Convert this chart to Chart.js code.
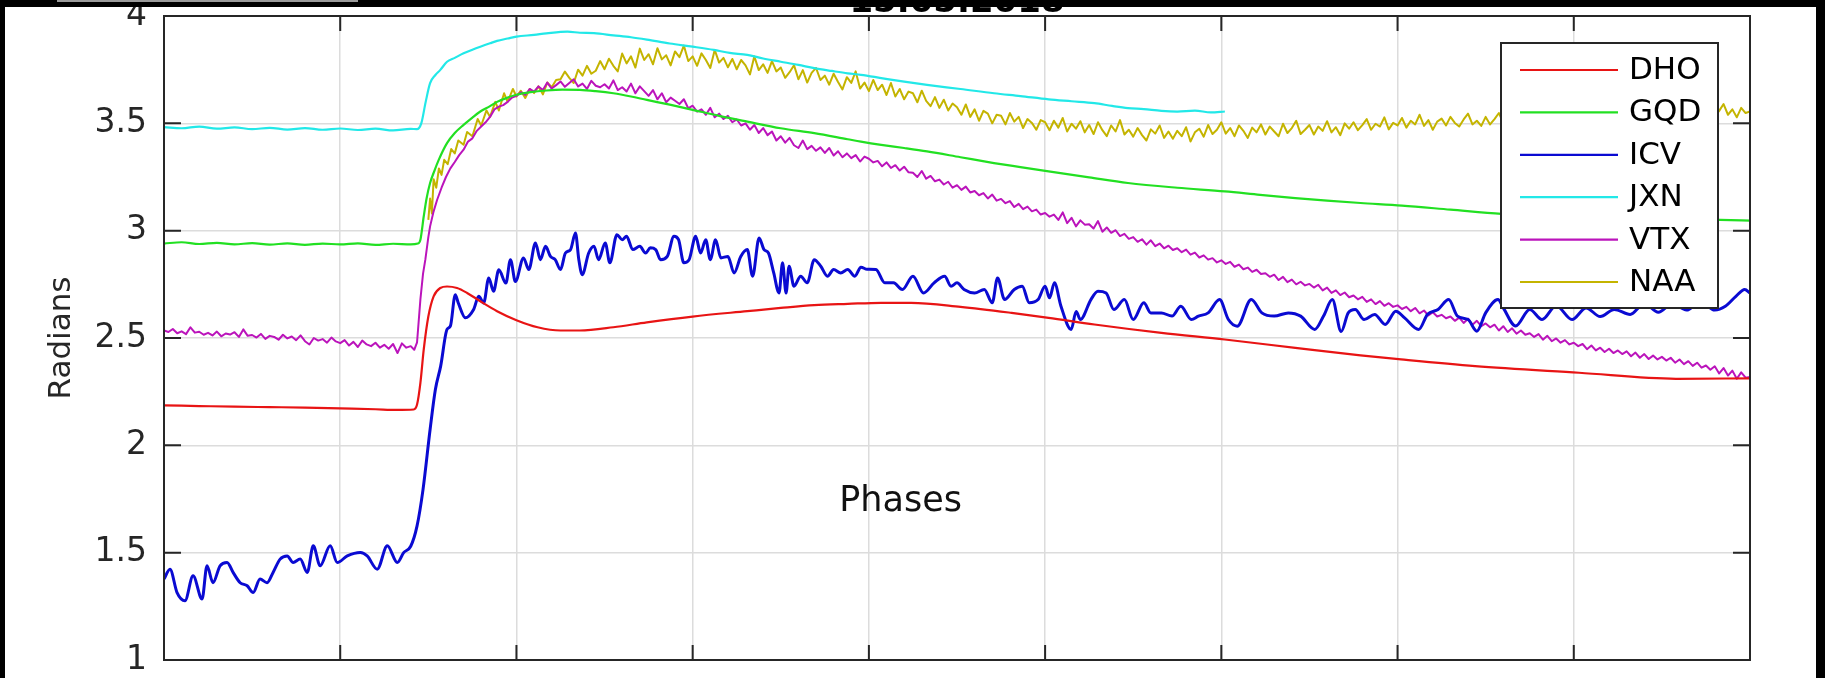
<!DOCTYPE html>
<html><head><meta charset="utf-8">
<script src="https://cdn.jsdelivr.net/npm/chart.js@4.4.1/dist/chart.umd.min.js"></script>
<style>
html,body{margin:0;padding:0;background:#000;width:1825px;height:678px;overflow:hidden}
#panel{position:absolute;left:5px;top:7px;width:1811px;height:671px;background:#fff}
#bar{position:absolute;left:57px;top:0;width:301px;height:2px;background:#9a9a9a}
canvas{display:block}
</style></head><body>
<div id="bar"></div>
<div id="panel"><canvas id="c" width="1811" height="671"></canvas></div>
<script>
const titleText = '15.05.2018';
const xAxisLabel = 'Phases';
const yAxisLabel = 'Radians';
const seriesNames = ['DHO','GQD','ICV','JXN','VTX','NAA'];
const seriesColors = ['#e81414','#22e022','#0a0ad2','#22e8e8','#bb14bb','#c4b400'];
const seriesWidths = [2.2,2.2,3,2.2,2,2];
const yTicks = [1,1.5,2,2.5,3,3.5,4];
const xTicks = [0,1,2,3,4,5,6,7,8,9];

const dhoX = [0,0.2,0.4,0.6,0.8,1.0,1.2,1.32,1.417,1.436,1.455,1.474,1.50,1.53,1.568,1.606,1.663,1.72,1.795,1.89,2.0,2.12,2.25,2.36,2.55,2.74,3.0,3.31,3.5,3.69,3.88,4.07,4.24,4.52,4.81,5.02,5.28,5.66,6.02,6.42,6.79,7.02,7.44,8.03,8.58,9.0];
const dhoY = [2.186,2.183,2.180,2.178,2.176,2.172,2.168,2.165,2.167,2.19,2.291,2.447,2.60,2.694,2.733,2.74,2.733,2.71,2.671,2.625,2.583,2.55,2.535,2.535,2.55,2.573,2.60,2.625,2.64,2.653,2.659,2.664,2.664,2.645,2.617,2.594,2.563,2.524,2.493,2.454,2.419,2.40,2.369,2.338,2.31,2.312];

const gqdX = [0,0.1,0.2,0.3,0.4,0.5,0.6,0.7,0.8,0.9,1.0,1.1,1.2,1.3,1.4,1.44,1.455,1.474,1.49,1.51,1.535,1.559,1.606,1.65,1.70,1.75,1.795,1.85,1.89,1.95,2.0,2.08,2.17,2.26,2.36,2.45,2.55,2.65,2.74,2.87,3.0,3.15,3.31,3.5,3.69,3.88,3.955,4.07,4.2,4.33,4.52,4.71,4.86,5.02,5.25,5.47,5.75,6.02,6.22,6.42,6.6,6.79,7.025,7.3,7.59,7.9,8.2,8.5,8.83,9.0];
const gqdY = [2.940,2.946,2.938,2.943,2.936,2.942,2.935,2.941,2.934,2.940,2.936,2.941,2.934,2.939,2.936,2.94,2.958,3.067,3.15,3.222,3.28,3.33,3.408,3.455,3.493,3.527,3.555,3.58,3.60,3.62,3.633,3.645,3.653,3.657,3.656,3.65,3.64,3.625,3.609,3.587,3.563,3.535,3.508,3.477,3.454,3.426,3.415,3.40,3.385,3.369,3.342,3.315,3.296,3.276,3.248,3.222,3.20,3.183,3.167,3.152,3.14,3.129,3.117,3.098,3.078,3.068,3.06,3.055,3.05,3.047];

const icvX = [0,0.034,0.074,0.119,0.165,0.216,0.244,0.278,0.318,0.358,0.392,0.432,0.472,0.506,0.545,0.585,0.619,0.659,0.699,0.733,0.773,0.813,0.847,0.886,0.943,0.983,1.04,1.114,1.153,1.21,1.267,1.324,1.36,1.40,1.436,1.47,1.51,1.54,1.57,1.606,1.625,1.653,1.67,1.71,1.757,1.786,1.814,1.843,1.87,1.9,1.94,1.966,1.994,2.04,2.07,2.108,2.136,2.165,2.193,2.22,2.25,2.278,2.307,2.335,2.354,2.373,2.41,2.44,2.466,2.504,2.53,2.57,2.6,2.625,2.66,2.7,2.733,2.76,2.79,2.818,2.856,2.894,2.92,2.95,2.98,3.017,3.045,3.074,3.1,3.13,3.16,3.2,3.235,3.273,3.31,3.34,3.377,3.405,3.43,3.46,3.49,3.51,3.53,3.547,3.575,3.613,3.65,3.69,3.727,3.765,3.8,3.84,3.88,3.92,3.955,3.99,4.04,4.09,4.14,4.19,4.25,4.31,4.37,4.43,4.466,4.5,4.54,4.6,4.655,4.7,4.73,4.77,4.825,4.87,4.91,4.96,5.0,5.025,5.053,5.09,5.148,5.176,5.2,5.26,5.3,5.346,5.39,5.45,5.5,5.56,5.6,5.66,5.72,5.77,5.83,5.87,5.925,5.99,6.04,6.09,6.17,6.23,6.3,6.38,6.45,6.53,6.58,6.63,6.68,6.72,6.76,6.81,6.87,6.93,6.99,7.04,7.12,7.17,7.23,7.29,7.34,7.4,7.45,7.5,7.57,7.6,7.67,7.75,7.82,7.9,7.99,8.07,8.15,8.23,8.32,8.4,8.48,8.56,8.64,8.72,8.8,8.86,8.92,8.97,9.0];
const icvY = [1.377,1.423,1.314,1.276,1.392,1.284,1.439,1.36,1.439,1.454,1.408,1.36,1.346,1.314,1.377,1.36,1.408,1.47,1.485,1.454,1.47,1.408,1.532,1.439,1.532,1.454,1.485,1.501,1.485,1.423,1.532,1.454,1.50,1.53,1.625,1.795,2.074,2.26,2.369,2.54,2.555,2.702,2.663,2.594,2.633,2.694,2.663,2.78,2.718,2.818,2.756,2.865,2.763,2.873,2.819,2.943,2.865,2.927,2.88,2.865,2.819,2.896,2.912,2.989,2.865,2.795,2.896,2.927,2.865,2.943,2.85,2.981,2.958,2.974,2.912,2.927,2.896,2.92,2.912,2.865,2.88,2.974,2.958,2.85,2.865,2.974,2.896,2.958,2.865,2.958,2.873,2.88,2.803,2.88,2.912,2.788,2.966,2.912,2.896,2.803,2.71,2.85,2.71,2.834,2.741,2.788,2.757,2.865,2.834,2.788,2.819,2.803,2.819,2.788,2.83,2.82,2.819,2.757,2.757,2.726,2.788,2.71,2.757,2.788,2.741,2.757,2.726,2.71,2.726,2.664,2.78,2.679,2.726,2.741,2.664,2.679,2.741,2.687,2.757,2.648,2.54,2.624,2.586,2.679,2.718,2.71,2.633,2.679,2.586,2.664,2.617,2.617,2.602,2.648,2.586,2.602,2.617,2.679,2.586,2.555,2.679,2.617,2.602,2.617,2.602,2.54,2.602,2.679,2.53,2.617,2.633,2.586,2.61,2.563,2.625,2.594,2.54,2.61,2.633,2.679,2.602,2.586,2.532,2.617,2.679,2.64,2.556,2.633,2.586,2.65,2.586,2.64,2.60,2.633,2.61,2.66,2.62,2.66,2.63,2.67,2.63,2.648,2.694,2.726,2.71];

const jxnX = [0,0.1,0.2,0.3,0.4,0.5,0.6,0.7,0.8,0.9,1.0,1.1,1.2,1.3,1.4,1.435,1.46,1.485,1.51,1.54,1.568,1.606,1.65,1.70,1.75,1.795,1.85,1.89,1.95,2.0,2.1,2.17,2.29,2.36,2.44,2.55,2.65,2.74,2.87,3.0,3.12,3.21,3.31,3.4,3.5,3.6,3.69,3.79,3.88,3.955,4.07,4.2,4.33,4.52,4.71,4.86,5.02,5.15,5.28,5.38,5.47,5.56,5.66,5.75,5.85,5.94,6.02];
const jxnY = [3.482,3.477,3.485,3.475,3.481,3.473,3.479,3.471,3.478,3.470,3.476,3.469,3.475,3.467,3.474,3.473,3.50,3.60,3.687,3.725,3.749,3.787,3.805,3.826,3.843,3.857,3.873,3.884,3.895,3.904,3.912,3.919,3.927,3.922,3.920,3.910,3.901,3.890,3.872,3.857,3.842,3.828,3.819,3.802,3.787,3.772,3.757,3.744,3.733,3.726,3.711,3.694,3.679,3.660,3.640,3.627,3.612,3.603,3.594,3.581,3.571,3.566,3.558,3.555,3.559,3.551,3.555];

// VTX: sampled every 0.025 from 0 to 1.4, irregular rise, then every 0.025 from 2.0 to 9.0
const sampleStep = 0.025;
const vtxStartA = 0;
const vtxYA = [2.535,2.528,2.542,2.522,2.531,2.518,2.550,2.525,2.529,2.515,
2.524,2.512,2.530,2.508,2.521,2.516,2.527,2.505,2.540,2.510,
2.514,2.502,2.519,2.496,2.510,2.505,2.492,2.515,2.498,2.507,
2.490,2.512,2.485,2.470,2.500,2.488,2.495,2.478,2.502,2.484,
2.476,2.490,2.465,2.482,2.458,2.488,2.470,2.462,2.478,2.455,
2.468,2.450,2.472,2.430,2.475,2.455,2.462];
const vtxRiseX = [1.42,1.436,1.455,1.47,1.483,1.5,1.51,1.53,1.55,1.575,1.6,1.625,1.65,1.675,1.7,1.725,1.75,1.775,1.8,1.825,1.85,1.875,1.9,1.925,1.95,1.975];
const vtxRiseY = [2.445,2.48,2.68,2.80,2.865,2.97,3.02,3.09,3.144,3.20,3.25,3.29,3.32,3.352,3.377,3.415,3.43,3.465,3.485,3.505,3.53,3.565,3.578,3.585,3.60,3.62];
const vtxStartB = 2.0;
const vtxYB = [3.628,3.645,3.632,3.660,3.648,3.672,3.655,3.690,3.662,3.678,
3.695,3.670,3.688,3.705,3.672,3.685,3.660,3.698,3.675,3.668,
3.682,3.662,3.700,3.655,3.668,3.648,3.685,3.640,3.672,3.650,
3.628,3.655,3.612,3.640,3.598,3.620,3.605,3.590,3.612,3.570,
3.582,3.555,3.565,3.540,3.572,3.528,3.545,3.520,3.535,3.505,
3.518,3.490,3.500,3.470,3.492,3.455,3.478,3.445,3.462,3.420,
3.440,3.410,3.432,3.398,3.385,3.420,3.380,3.395,3.372,3.388,
3.362,3.385,3.350,3.370,3.342,3.360,3.338,3.352,3.322,3.345,
3.335,3.318,3.325,3.300,3.318,3.292,3.305,3.280,3.298,3.272,
3.270,3.250,3.278,3.242,3.255,3.230,3.238,3.215,3.228,3.200,
3.212,3.190,3.205,3.178,3.185,3.165,3.175,3.150,3.168,3.140,
3.148,3.128,3.138,3.110,3.125,3.100,3.112,3.090,3.098,3.075,
3.082,3.065,3.075,3.050,3.085,3.035,3.060,3.020,3.048,3.028,
3.030,3.010,3.045,2.995,3.015,2.990,3.002,2.975,2.985,2.962,
2.970,2.948,2.960,2.935,2.955,2.928,2.940,2.918,2.930,2.910,
2.918,2.900,2.912,2.888,2.898,2.875,2.885,2.865,2.872,2.852,
2.862,2.845,2.855,2.832,2.842,2.820,2.828,2.808,2.818,2.798,
2.802,2.785,2.795,2.770,2.785,2.760,2.772,2.750,2.762,2.745,
2.752,2.735,2.748,2.722,2.735,2.710,2.722,2.700,2.712,2.690,
2.698,2.680,2.692,2.668,2.680,2.658,2.672,2.650,2.662,2.645,
2.652,2.635,2.645,2.625,2.640,2.615,2.628,2.605,2.620,2.600,
2.608,2.592,2.600,2.580,2.595,2.570,2.590,2.562,2.580,2.555,
2.568,2.550,2.562,2.535,2.555,2.528,2.545,2.520,2.535,2.515,
2.522,2.505,2.518,2.492,2.510,2.485,2.498,2.478,2.490,2.470,
2.478,2.462,2.472,2.448,2.465,2.442,2.455,2.435,2.450,2.430,
2.442,2.425,2.438,2.415,2.432,2.408,2.425,2.402,2.418,2.400,
2.412,2.395,2.408,2.385,2.400,2.378,2.392,2.370,2.385,2.362,
2.372,2.352,2.368,2.335,2.360,2.325,2.348,2.310,2.340,2.315,
2.318];

// NAA: irregular start, then every 0.025 from 2.0 to 9.0
const naaRiseX = [1.5,1.51,1.52,1.53,1.545,1.56,1.575,1.59,1.61,1.63,1.65,1.67,1.7,1.72,1.75,1.78,1.8,1.83,1.85,1.88,1.9,1.93,1.95,1.98];
const naaRiseY = [3.05,3.15,3.08,3.24,3.20,3.29,3.26,3.33,3.31,3.38,3.36,3.42,3.40,3.46,3.44,3.52,3.49,3.56,3.53,3.60,3.56,3.64,3.60,3.66];
const naaStart = 2.0;
const naaYB = [3.625,3.652,3.618,3.660,3.641,3.672,3.635,3.690,3.668,3.702,
3.705,3.741,3.712,3.688,3.750,3.722,3.768,3.731,3.745,3.790,
3.752,3.801,3.768,3.742,3.825,3.779,3.812,3.760,3.848,3.795,
3.822,3.775,3.850,3.798,3.817,3.770,3.835,3.808,3.862,3.790,
3.812,3.768,3.826,3.795,3.758,3.842,3.783,3.805,3.761,3.800,
3.752,3.795,3.770,3.728,3.812,3.748,3.775,3.735,3.790,3.742,
3.760,3.712,3.738,3.771,3.705,3.748,3.690,3.735,3.758,3.702,
3.722,3.680,3.731,3.693,3.658,3.715,3.688,3.742,3.662,3.690,
3.650,3.702,3.655,3.680,3.632,3.688,3.625,3.660,3.612,3.648,
3.640,3.598,3.652,3.605,3.580,3.622,3.572,3.610,3.560,3.592,
3.575,3.540,3.588,3.530,3.565,3.512,3.558,3.545,3.500,3.540,
3.535,3.495,3.548,3.508,3.530,3.478,3.520,3.502,3.470,3.515,
3.505,3.468,3.512,3.480,3.525,3.462,3.498,3.475,3.510,3.458,
3.492,3.450,3.505,3.468,3.440,3.490,3.462,3.515,3.448,3.470,
3.438,3.478,3.445,3.420,3.472,3.452,3.490,3.432,3.462,3.428,
3.465,3.440,3.482,3.415,3.458,3.475,3.438,3.492,3.450,3.470,
3.505,3.452,3.478,3.440,3.490,3.465,3.432,3.480,3.458,3.495,
3.448,3.485,3.462,3.440,3.498,3.455,3.478,3.512,3.450,3.470,
3.492,3.448,3.485,3.465,3.510,3.458,3.482,3.445,3.500,3.475,
3.505,3.468,3.492,3.520,3.470,3.498,3.485,3.528,3.472,3.502,
3.490,3.525,3.480,3.512,3.495,3.540,3.488,3.515,3.470,3.508,
3.522,3.490,3.530,3.502,3.485,3.518,3.545,3.495,3.512,3.488,
3.530,3.495,3.520,3.548,3.502,3.515,3.490,3.535,3.508,3.525,
3.498,3.540,3.512,3.530,3.495,3.522,3.550,3.505,3.528,3.510,
3.538,3.502,3.525,3.555,3.515,3.532,3.498,3.540,3.520,3.545,
3.512,3.548,3.525,3.560,3.515,3.538,3.505,3.552,3.530,3.545,
3.520,3.562,3.530,3.548,3.515,3.570,3.535,3.552,3.525,3.560,
3.538,3.575,3.532,3.558,3.590,3.540,3.565,3.528,3.572,3.548,
3.555];

function sampled(start, step, ys) { return ys.map((v, i) => ({x: +(start + i * step).toFixed(3), y: v})); }
function paired(xs, ys) { return xs.map((v, i) => ({x: v, y: ys[i]})); }

const seriesData = [
  paired(dhoX, dhoY),
  paired(gqdX, gqdY),
  paired(icvX, icvY),
  paired(jxnX, jxnY),
  sampled(vtxStartA, sampleStep, vtxYA).concat(paired(vtxRiseX, vtxRiseY), sampled(vtxStartB, sampleStep, vtxYB)),
  paired(naaRiseX, naaRiseY).concat(sampled(naaStart, sampleStep, naaYB))
];
const seriesTension = [0.4, 0.4, 0.3, 0.4, 0, 0];

const FONT = '"DejaVu Sans", sans-serif';
const axisColor = '#262626';

const framePlugin = {
  id: 'frame',
  afterDatasetsDraw(chart) {
    const {ctx, chartArea: a, scales: {x, y}} = chart;
    ctx.save();
    ctx.strokeStyle = axisColor;
    ctx.lineWidth = 2;
    ctx.beginPath();
    xTicks.forEach(v => {
      if (v <= x.min || v >= x.max) return;
      const px = x.getPixelForValue(v);
      ctx.moveTo(px, a.top); ctx.lineTo(px, a.top + 15);
      ctx.moveTo(px, a.bottom); ctx.lineTo(px, a.bottom - 15);
    });
    yTicks.forEach(v => {
      if (v <= y.min || v >= y.max) return;
      const py = y.getPixelForValue(v);
      ctx.moveTo(a.left, py); ctx.lineTo(a.left + 17, py);
      ctx.moveTo(a.right, py); ctx.lineTo(a.right - 17, py);
    });
    ctx.stroke();
    ctx.strokeRect(a.left, a.top, a.right - a.left, a.bottom - a.top);

    ctx.fillStyle = '#111';
    ctx.font = '35px ' + FONT;
    ctx.textAlign = 'center';
    ctx.textBaseline = 'alphabetic';
    ctx.fillText(xAxisLabel, x.getPixelForValue(4.18), y.getPixelForValue(1.693));

    const bx = a.right - 249, by = a.top + 27, bw = 217, bh = 265;
    ctx.fillStyle = '#fff';
    ctx.fillRect(bx, by, bw, bh);
    ctx.strokeStyle = axisColor;
    ctx.lineWidth = 2;
    ctx.strokeRect(bx, by, bw, bh);
    ctx.font = '31px ' + FONT;
    ctx.textAlign = 'left';
    ctx.textBaseline = 'middle';
    chart.data.datasets.forEach((ds, i) => {
      const cy = by + 27 + i * 42.4;
      ctx.strokeStyle = ds.borderColor;
      ctx.lineWidth = 2.2;
      ctx.beginPath();
      ctx.moveTo(bx + 19, cy); ctx.lineTo(bx + 117, cy);
      ctx.stroke();
      ctx.fillStyle = '#000';
      ctx.fillText(ds.label, bx + 128, cy + 1);
    });

    ctx.fillStyle = '#000';
    ctx.font = 'bold 34px ' + FONT;
    ctx.textAlign = 'center';
    ctx.textBaseline = 'alphabetic';
    ctx.fillText(titleText, (a.left + a.right) / 2, 5);
    ctx.restore();
  }
};

const datasets = seriesNames.map((name, i) => ({
  label: name,
  data: seriesData[i],
  borderColor: seriesColors[i],
  borderWidth: seriesWidths[i],
  pointRadius: 0,
  fill: false,
  tension: seriesTension[i],
  cubicInterpolationMode: seriesTension[i] > 0 ? 'monotone' : 'default',
  borderJoinStyle: 'round'
}));

new Chart(document.getElementById('c'), {
  type: 'line',
  data: {datasets},
  options: {
    responsive: false,
    animation: false,
    events: [],
    layout: {padding: {left: 0, right: 66, top: 9, bottom: 18}},
    plugins: {legend: {display: false}, tooltip: {enabled: false}, title: {display: false}},
    scales: {
      x: {
        type: 'linear', min: 0, max: 9,
        afterBuildTicks: s => { s.ticks = xTicks.map(v => ({value: v})); },
        afterFit: s => { s.height = 0; s.paddingLeft = 0; s.paddingRight = 0; },
        ticks: {display: false},
        grid: {color: '#dcdcdc', lineWidth: 1.5, drawTicks: false},
        border: {display: false}
      },
      y: {
        type: 'linear', min: 1, max: 4,
        afterBuildTicks: s => { s.ticks = yTicks.map(v => ({value: v})); },
        afterFit: s => { s.width = 159; s.paddingTop = 0; s.paddingBottom = 0; },
        ticks: {color: axisColor, font: {family: FONT, size: 33}, padding: 17,
                callback: v => String(v)},
        grid: {color: '#dcdcdc', lineWidth: 1.5, drawTicks: false},
        border: {display: false},
        title: {display: true, text: yAxisLabel, color: axisColor,
                font: {family: FONT, size: 31}, padding: {top: 38, bottom: 0}}
      }
    }
  },
  plugins: [framePlugin]
});
</script>
</body></html>
